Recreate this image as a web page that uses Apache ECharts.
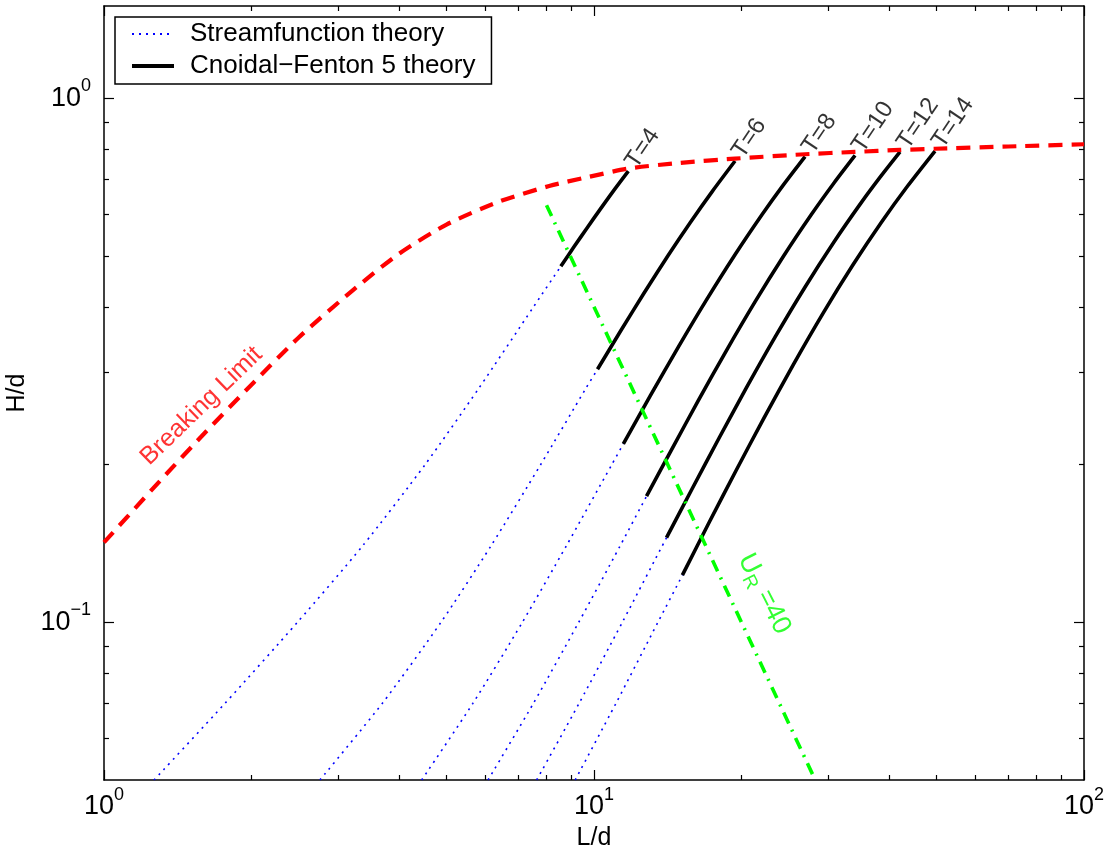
<!DOCTYPE html>
<html>
<head>
<meta charset="utf-8">
<script src="https://cdn.jsdelivr.net/npm/echarts@6/dist/echarts.min.js"></script>
<style>
html,body{margin:0;padding:0;background:#fff;}
#c{width:1114px;height:852px;}
</style>
</head>
<body>
<div id="c"></div>
<script>
// ---------------- data ----------------
const periods = ['T=4', 'T=6', 'T=8', 'T=10', 'T=12', 'T=14'];

const ldT4  = [1.265, 1.765, 2.482, 3.373, 4.523, 5.826, 7.527, 8.558, 9.0955, 9.671, 10.284, 10.949, 11.75];
const hdT4  = [0.05, 0.07, 0.1, 0.14, 0.2, 0.28, 0.4, 0.478, 0.52, 0.565, 0.613, 0.665, 0.726];
const ldT6  = [2.758, 3.697, 4.872, 6.166, 7.785, 9.636, 10.166, 11.339, 12.653, 14.144, 15.736, 17.451, 19.40];
const hdT6  = [0.05, 0.07, 0.1, 0.14, 0.2, 0.28, 0.304, 0.36, 0.425, 0.5, 0.58, 0.665, 0.759];
const ldT8  = [4.449, 5.659, 7.142, 8.785, 10.874, 11.478, 13.014, 14.859, 16.904, 19.322, 22.032, 24.394, 26.96];
const hdT8  = [0.05, 0.07, 0.1, 0.14, 0.2, 0.219, 0.27, 0.335, 0.41, 0.5, 0.6, 0.685, 0.774];
const ldT10 = [6.077, 7.520, 9.308, 11.311, 12.80, 14.456, 16.332, 18.631, 21.354, 24.376, 27.771, 30.912, 34.1];
const hdT10 = [0.05, 0.07, 0.1, 0.14, 0.174, 0.215, 0.265, 0.33, 0.41, 0.5, 0.6, 0.69, 0.778];
const ldT12 = [7.638, 9.320, 11.424, 14.060, 15.870, 18.012, 20.457, 23.414, 26.909, 30.813, 35.018, 38.502, 42.12];
const hdT12 = [0.05, 0.07, 0.1, 0.145, 0.18, 0.225, 0.28, 0.35, 0.435, 0.53, 0.63, 0.71, 0.79];
const ldT14 = [9.153, 11.084, 13.503, 15.15, 17.174, 19.509, 22.206, 25.500, 29.393, 33.722, 38.600, 43.652, 49.65];
const hdT14 = [0.05, 0.07, 0.1, 0.123, 0.155, 0.195, 0.245, 0.31, 0.39, 0.48, 0.58, 0.68, 0.793];
// index where the Cnoidal-Fenton 5 (black) segment starts on each curve
const cnoidalStart = [7, 6, 5, 4, 3, 3];

const breakLD = [1, 1.3, 1.6, 2.0, 2.5, 3.2, 4.0, 5.0, 6.4, 8.1, 9.7, 11.73, 15, 19.4, 26.96, 34.09, 42.12, 49.65, 70, 100];
const breakHD = [0.142, 0.186, 0.229, 0.284, 0.35, 0.428, 0.505, 0.574, 0.635, 0.680, 0.707, 0.734, 0.753, 0.767, 0.782, 0.790, 0.797, 0.801, 0.809, 0.817];

const ursellLD = [8, 28];
const ursellHD = [0.625, 0.051];

const breakLabelPos = [1.585, 0.258];
const ursellLabelPos = [22.3, 0.113];

const xMajor = [1, 10, 100];
const xMajorExp = ['0', '1', '2'];
const xMinor = [2, 3, 4, 5, 6, 7, 8, 9, 20, 30, 40, 50, 60, 70, 80, 90];
const yMajor = [0.1, 1];
const yMajorExp = ['\u22121', '0'];
const yMinor = [0.06, 0.07, 0.08, 0.09, 0.2, 0.3, 0.4, 0.5, 0.6, 0.7, 0.8, 0.9];

const legendNames = ['Streamfunction theory', 'Cnoidal\u2212Fenton 5 theory'];

// ---------------- chart ----------------
const FONT = '"Liberation Sans", Arial, Helvetica, sans-serif';
const streamLD = [ldT4, ldT6, ldT8, ldT10, ldT12, ldT14];
const streamHD = [hdT4, hdT6, hdT8, hdT10, hdT12, hdT14];
const zip = (a, b) => a.map((v, i) => [v, b[i]]);

function expFormatter(values, exps) {
  return function (v) {
    const i = values.findIndex(m => Math.abs(m - v) / m < 1e-6);
    return i < 0 ? '' : '{b|10}{s|' + exps[i] + '}';
  };
}
const richExp = {
  b: {fontSize: 27, fontFamily: FONT, color: '#000', lineHeight: 42},
  s: {fontSize: 18, fontFamily: FONT, color: '#000', lineHeight: 14, verticalAlign: 'top'}
};

function makeAxis(kind, pos, major, labels) {
  const isX = kind === 'x';
  const ax = {
    type: 'log', logBase: 10,
    min: isX ? 1 : 0.05, max: isX ? 100 : 1.5,
    position: pos,
    axisLine: {show: major, onZero: false, lineStyle: {color: '#000', width: 1.5}},
    axisTick: {show: true, inside: true, length: major ? 10 : 5,
      customValues: major ? (isX ? xMajor : yMajor) : (isX ? xMinor : yMinor),
      lineStyle: {color: '#000', width: 1.2}},
    axisLabel: {show: false},
    splitLine: {show: false},
    minorTick: {show: false},
    minorSplitLine: {show: false}
  };
  if (labels) {
    ax.axisLabel = {
      show: true,
      customValues: isX ? xMajor : yMajor,
      margin: isX ? 6 : 13,
      formatter: isX ? expFormatter(xMajor, xMajorExp) : expFormatter(yMajor, yMajorExp),
      rich: richExp
    };
    ax.name = isX ? 'L/d' : 'H/d';
    ax.nameLocation = 'middle';
    ax.nameGap = isX ? 43 : 70;
    ax.nameTextStyle = {fontSize: 25, fontFamily: FONT, color: '#000'};
  }
  return ax;
}

const series = [];
streamLD.forEach((ld, i) => {
  series.push({
    type: 'line', name: legendNames[0], data: zip(ld, streamHD[i]),
    symbol: 'none', smooth: 0.25, silent: true, z: 2,
    lineStyle: {color: '#0000ff', width: 1.6, type: [2, 5]},
    itemStyle: {color: '#0000ff'}
  });
});
streamLD.forEach((ld, i) => {
  const s = cnoidalStart[i];
  series.push({
    type: 'line', name: legendNames[1], data: zip(ld.slice(s), streamHD[i].slice(s)),
    symbol: 'none', smooth: 0.25, silent: true, z: 3,
    lineStyle: {color: '#000', width: 3.6, type: 'solid', cap: 'butt', join: 'round'},
    itemStyle: {color: '#000'}
  });
});
series.push({
  type: 'line', name: 'Breaking Limit', data: zip(breakLD, breakHD),
  symbol: 'none', smooth: 0.25, silent: true, z: 4,
  lineStyle: {color: '#ff0000', width: 4.2, type: [14, 9], join: 'round'}
});
series.push({
  type: 'line', name: 'Ursell', data: zip(ursellLD, ursellHD),
  symbol: 'none', silent: true, z: 5,
  lineStyle: {color: '#00ff00', width: 3.6, type: [12, 7, 2, 7]}
});
// T labels at the breaking end of each curve
series.push({
  type: 'scatter', name: 'Tlabels', silent: true, z: 6, symbolSize: 1,
  itemStyle: {color: 'rgba(0,0,0,0)'},
  data: streamLD.map((ld, i) => ({name: periods[i], value: [ld[ld.length - 1], streamHD[i][streamHD[i].length - 1]]})),
  label: {show: true, formatter: '{b}', position: [13, 2], align: 'left', verticalAlign: 'bottom',
    rotate: 56, fontSize: 24, fontFamily: FONT, color: '#000'}
});
series.push({
  type: 'scatter', name: 'BreakLabel', silent: true, z: 6, symbolSize: 1,
  itemStyle: {color: 'rgba(0,0,0,0)'},
  data: [{name: 'Breaking Limit', value: breakLabelPos}],
  label: {show: true, formatter: '{b}', position: [0, 0], align: 'center', verticalAlign: 'middle',
    rotate: 44, fontSize: 25, fontFamily: FONT, color: '#ff0000'}
});
series.push({
  type: 'scatter', name: 'UrLabel', silent: true, z: 6, symbolSize: 1,
  itemStyle: {color: 'rgba(0,0,0,0)'},
  data: [{name: 'UR', value: ursellLabelPos}],
  label: {show: true, formatter: '{u|U}{r|R}{u| =40}', position: [0, 0], align: 'center', verticalAlign: 'middle',
    rotate: -63,
    rich: {
      u: {fontSize: 27, fontFamily: FONT, color: '#00ff00', lineHeight: 34},
      r: {fontSize: 19, fontFamily: FONT, color: '#00ff00', lineHeight: 14, verticalAlign: 'bottom'}
    }}
});

const option = {
  animation: false,
  backgroundColor: '#fff',
  grid: {left: 104, right: 30, top: 6, bottom: 72, containLabel: false, outerBoundsMode: 'none'},
  legend: {
    data: [
      {name: legendNames[0]},
      {name: legendNames[1], lineStyle: {width: 4, color: '#000'}}
    ],
    orient: 'vertical', left: 115, top: 17,
    itemWidth: 42, itemHeight: 14, itemGap: 6,
    padding: [4, 16, 5, 15], borderColor: '#000', borderWidth: 1.5, backgroundColor: '#fff',
    selectedMode: false,
    itemStyle: {opacity: 0},
    textStyle: {fontSize: 26, fontFamily: FONT, color: '#000', padding: [0, 0, 0, 11]}
  },
  xAxis: [
    makeAxis('x', 'bottom', true, true),
    makeAxis('x', 'bottom', false, false),
    makeAxis('x', 'top', true, false),
    makeAxis('x', 'top', false, false)
  ],
  yAxis: [
    makeAxis('y', 'left', true, true),
    makeAxis('y', 'left', false, false),
    makeAxis('y', 'right', true, false),
    makeAxis('y', 'right', false, false)
  ],
  series: series
};

const chart = echarts.init(document.getElementById('c'), null, {renderer: 'canvas'});
chart.setOption(option);
</script>
</body>
</html>
